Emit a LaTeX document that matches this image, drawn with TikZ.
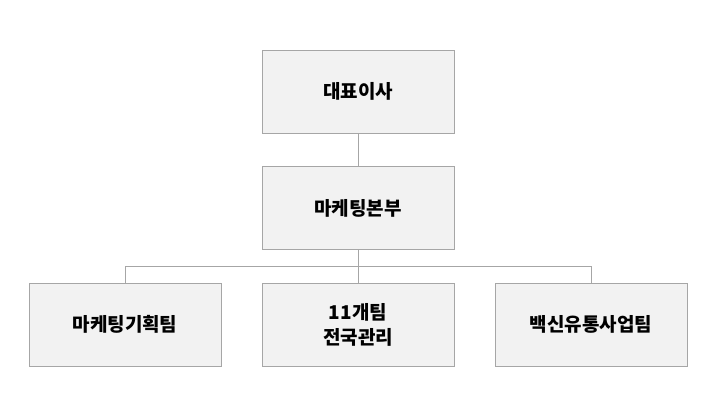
\documentclass[tikz,border=0pt]{standalone}
\usepackage{fontspec}
\newfontfamily\kr{Noto Sans CJK KR}
\definecolor{boxfill}{HTML}{F2F2F2}
\definecolor{boxline}{HTML}{A6A6A6}
\begin{document}
\begin{tikzpicture}[x=1pt,y=-1pt,
  org/.style={draw=boxline,fill=boxfill,line width=0.8pt,minimum width=192pt,minimum height=83pt,inner sep=0pt,align=center,font=\kr\bfseries\fontsize{19}{25}\selectfont},
  link/.style={draw=boxline,line width=0.8pt}]
\useasboundingbox (0,0) rectangle (719,413);
\node[org] (ceo) at (358,91.5) {대표이사};
\node[org] (mkt) at (358,208) {마케팅본부};
\node[org] (a) at (125,324.5) {마케팅기획팀};
\node[org] (b) at (358,324.5) {11개팀\\전국관리};
\node[org] (c) at (591,324.5) {백신유통사업팀};
\coordinate (j) at (358,266);
\draw[link] (ceo) -- (mkt);
\draw[link] (mkt) -- (j);
\draw[link] (j) -| (a.north);
\draw[link] (j) -- (b.north);
\draw[link] (j) -| (c.north);
\end{tikzpicture}
\end{document}
